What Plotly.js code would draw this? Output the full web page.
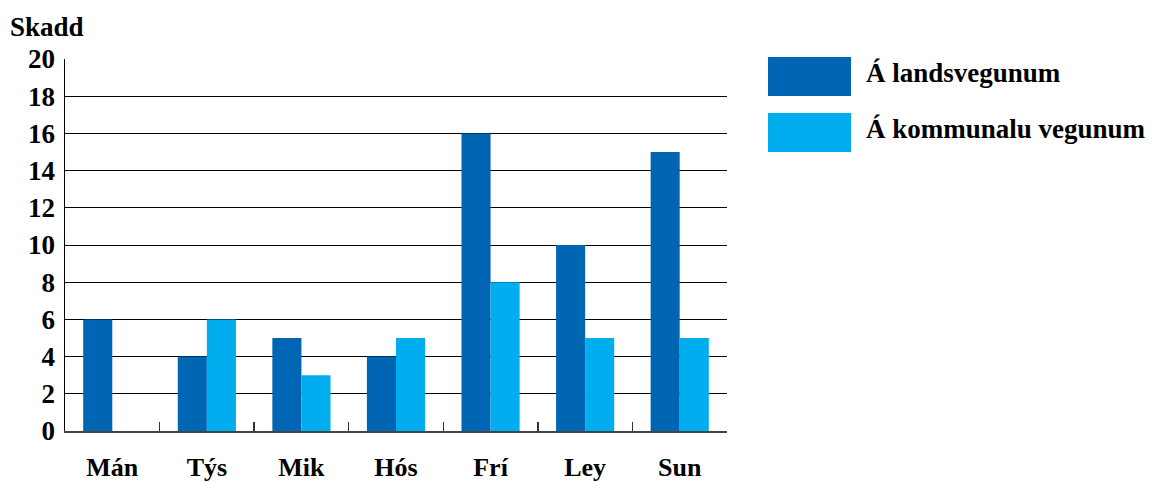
<!DOCTYPE html>
<html>
<head>
<meta charset="utf-8">
<script src="https://cdn.plot.ly/plotly-3.0.1.min.js"></script>
<style>html,body{margin:0;padding:0;background:#fff;}#chart{width:1155px;height:483px;}</style>
</head>
<body>
<div id="chart"></div>
<script>
const categories = ["Mán", "Týs", "Mik", "Hós", "Frí", "Ley", "Sun"];
const seriesNames = ["Á landsvegunum", "Á kommunalu vegunum"];
const landsvegunum = [6, 4, 5, 4, 16, 10, 15];
const kommunaluVegunum = [0, 6, 3, 5, 8, 5, 5];
const yTicks = [0, 2, 4, 6, 8, 10, 12, 14, 16, 18, 20];
const yTitle = "Skadd";
const colors = ["#0066B3", "#00AEEF"];

const font = {family: "Liberation Serif", size: 27, color: "#000", weight: 700};
const xFont = {family: "Liberation Serif", size: 26, color: "#000", weight: 700};

const traces = [
  {type: "bar", x: categories, y: landsvegunum, name: seriesNames[0], marker: {color: colors[0]}, showlegend: false},
  {type: "bar", x: categories, y: kommunaluVegunum, name: seriesNames[1], marker: {color: colors[1]}, showlegend: false}
];

const shapes = [];
const annotations = [];
seriesNames.forEach((n, i) => {
  const top = 57 + i * 56;
  shapes.push({type: "rect", xref: "paper", yref: "paper",
    x0: (768 - 65) / 662, x1: (851 - 65) / 662,
    y0: (431 - (top + 39)) / 372, y1: (431 - top) / 372,
    fillcolor: colors[i], line: {width: 0}});
  annotations.push({xref: "paper", yref: "paper", x: (864 - 65) / 662, y: (431 - (top + 16)) / 372,
    xanchor: "left", yanchor: "middle", showarrow: false, text: n, font: font});
});

const layout = {
  width: 1155, height: 483,
  margin: {l: 65, r: 428, t: 59, b: 52},
  paper_bgcolor: "#fff", plot_bgcolor: "#fff",
  font: font,
  barmode: "group", bargap: 0.385, bargroupgap: 0,
  title: {text: yTitle, x: 10 / 1155, xanchor: "left", xref: "container",
    y: 1 - 27 / 483, yanchor: "middle", yref: "container", font: font},
  xaxis: {
    type: "category", tickson: "boundaries", ticks: "inside", ticklen: 9, tickwidth: 1.5, tickcolor: "#333",
    showline: true, linecolor: "#444", linewidth: 2, showgrid: false, zeroline: false,
    tickfont: xFont, ticklabelstandoff: 12
  },
  yaxis: {
    range: [0, 20], tickvals: yTicks,
    showline: true, linecolor: "#000", linewidth: 1.5, showgrid: true, gridcolor: "#000", gridwidth: 1,
    zeroline: false, ticks: "", tickfont: font, ticklabelstandoff: 3
  },
  shapes: shapes,
  annotations: annotations
};

Plotly.newPlot("chart", traces, layout, {displayModeBar: false, staticPlot: true});
</script>
</body>
</html>
